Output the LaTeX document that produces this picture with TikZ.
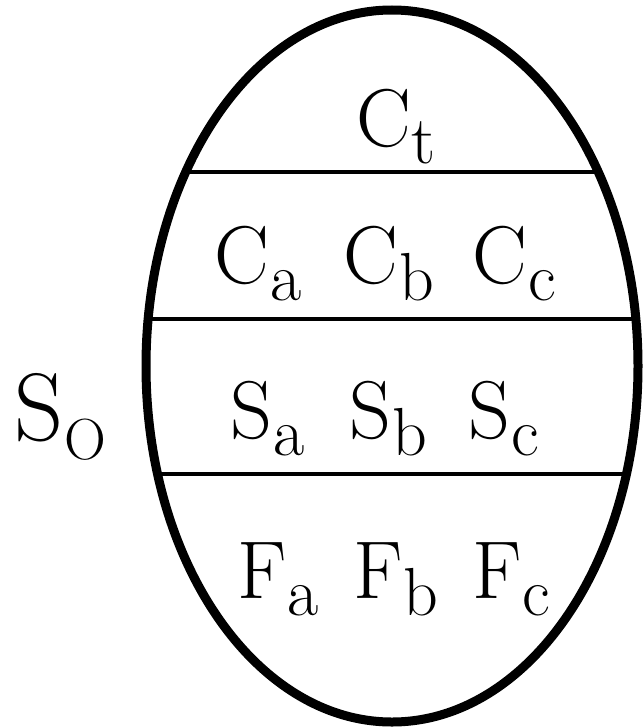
\documentclass[tikz,border=0pt]{standalone}
\usepackage{fontspec}
\newcommand{\mysym}[2]{#1\kern1pt\raisebox{-17pt}{\fontsize{68}{70}\selectfont #2}}
\tikzset{
  lbl/.style={inner sep=0pt, anchor=base, font=\rmfamily\fontsize{82}{84}\selectfont},
  divider/.style={line width=3.5pt},
  outline/.style={line width=9pt}
}
\begin{document}
\begin{tikzpicture}[x=1pt,y=-1pt]
\useasboundingbox (0,0) rectangle (643,728);
\coordinate (ctr) at (392,366);
\begin{scope}
  \clip (ctr) ellipse [x radius=246pt, y radius=356pt];
  \coordinate (l1a) at (100,172); \coordinate (l1b) at (700,172);
  \coordinate (l2a) at (100,319); \coordinate (l2b) at (700,319);
  \coordinate (l3a) at (100,474); \coordinate (l3b) at (700,474);
  \draw[divider] (l1a) -- (l1b);
  \draw[divider] (l2a) -- (l2b);
  \draw[divider] (l3a) -- (l3b);
\end{scope}
\draw[outline] (ctr) ellipse [x radius=246pt, y radius=356pt];
\node[lbl] (ct) at (396,146) {\mysym{C}{t}};
\node[lbl] (ca) at (258,283) {\mysym{C}{a}};
\node[lbl] (cb) at (389,283) {\mysym{C}{b}};
\node[lbl] (cc) at (514,283) {\mysym{C}{c}};
\node[lbl] (sa) at (268,438) {\mysym{S}{a}};
\node[lbl] (sb) at (388,438) {\mysym{S}{b}};
\node[lbl] (sc) at (504,438) {\mysym{S}{c}};
\node[lbl] (fa) at (278,598) {\mysym{F}{a}};
\node[lbl] (fb) at (396,598) {\mysym{F}{b}};
\node[lbl] (fc) at (511,598) {\mysym{F}{c}};
\node[inner sep=0pt, anchor=base, font=\rmfamily] (so) at (60,440) {\fontsize{96}{98}\selectfont S\kern1pt\raisebox{-19pt}{\fontsize{58}{60}\selectfont O}};
\end{tikzpicture}
\end{document}
